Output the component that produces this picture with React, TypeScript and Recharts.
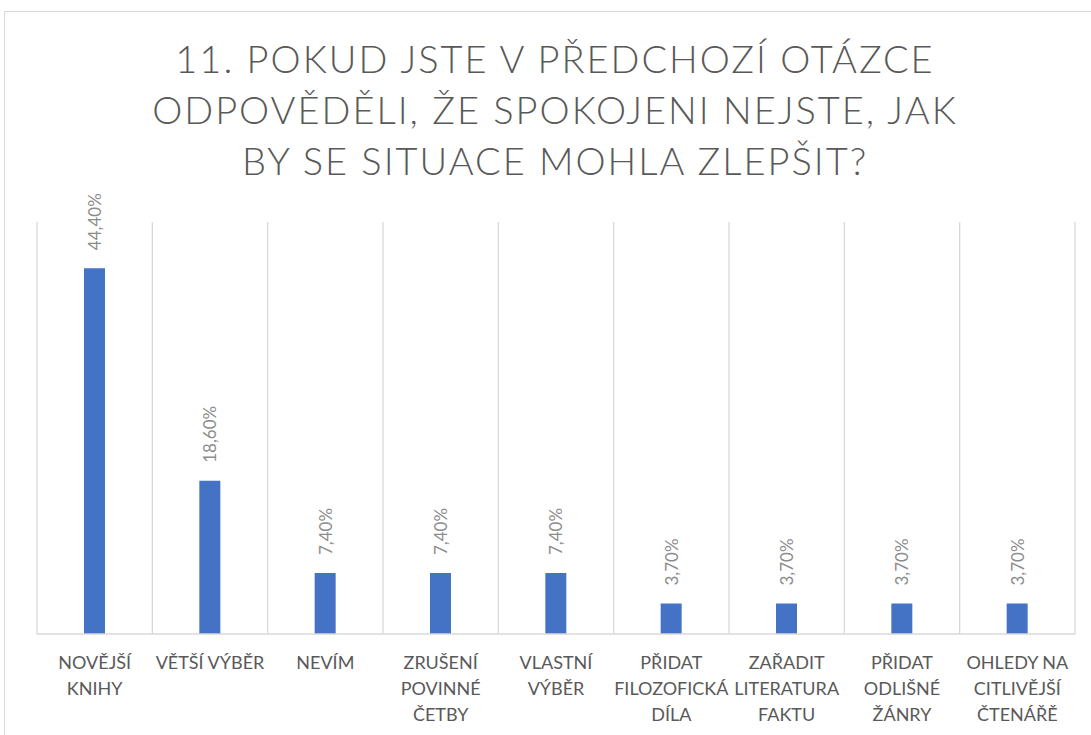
import { BarChart, Bar, XAxis, YAxis, CartesianGrid, LabelList } from 'recharts';

const categories = [
  'NOVĚJŠÍ\nKNIHY',
  'VĚTŠÍ VÝBĚR',
  'NEVÍM',
  'ZRUŠENÍ\nPOVINNÉ\nČETBY',
  'VLASTNÍ\nVÝBĚR',
  'PŘIDAT\nFILOZOFICKÁ\nDÍLA',
  'ZAŘADIT\nLITERATURA\nFAKTU',
  'PŘIDAT\nODLIŠNÉ\nŽÁNRY',
  'OHLEDY NA\nCITLIVĚJŠÍ\nČTENÁŘĚ',
];
const shares = [44.4, 18.6, 7.4, 7.4, 7.4, 3.7, 3.7, 3.7, 3.7];
const titleLines = [
  '11. POKUD JSTE V PŘEDCHOZÍ OTÁZCE',
  'ODPOVĚDĚLI, ŽE SPOKOJENI NEJSTE, JAK',
  'BY SE SITUACE MOHLA ZLEPŠIT?',
];

const data = categories.map((name, i) => ({ name, value: shares[i] }));

const FONT = 'Lato, "Open Sans", sans-serif';

// grid lines sit on the category boundaries, not the centres
function boundaryLines({ offset }: any) {
  const step = offset.width / categories.length;
  return Array.from({ length: categories.length + 1 }, (_, i) => offset.left + i * step);
}

function CategoryTick(props: any) {
  const { x, y, payload } = props;
  const lines = String(payload.value).split('\n');
  return (
    <text x={x} y={y + 27} textAnchor="middle" fill="#595959" fontSize={18} fontFamily={FONT}>
      {lines.map((line, i) => (
        <tspan key={i} x={x} dy={i === 0 ? 0 : 26}>
          {line}
        </tspan>
      ))}
    </text>
  );
}

function ValueLabel(props: any) {
  const { x, y, width, value } = props;
  const cx = x + width / 2;
  const cy = y - 18;
  return (
    <text
      x={cx}
      y={cy}
      transform={`rotate(-90 ${cx} ${cy})`}
      textAnchor="start"
      dominantBaseline="central"
      fill="#8c8c8c"
      fontSize={17}
      fontFamily={FONT}
    >
      {value.toFixed(2).replace('.', ',')}%
    </text>
  );
}

export default function App() {
  return (
    <div style={{ position: 'absolute', left: 0, top: 0, width: 1091, height: 735, background: '#fff', overflow: 'hidden' }}>
      <div
        style={{
          position: 'absolute',
          left: 4,
          top: 11,
          width: 1100,
          height: 740,
          border: '1px solid #d9d9d9',
        }}
      />
      <div
        style={{
          position: 'absolute',
          left: 0,
          top: 33,
          width: 1110,
          textAlign: 'center',
          fontFamily: FONT,
          fontWeight: 300,
          fontSize: 38,
          lineHeight: '51px',
          letterSpacing: 2,
          color: '#595959',
        }}
      >
        {titleLines.map((t) => (
          <div key={t}>{t}</div>
        ))}
      </div>
      <div style={{ position: 'absolute', left: 0, top: 0 }}>
        <BarChart
          width={1091}
          height={735}
          data={data}
          margin={{ top: 222, left: 37, right: 16, bottom: 11 }}
        >
          <CartesianGrid
            horizontal={false}
            vertical
            verticalCoordinatesGenerator={boundaryLines}
            stroke="#d9d9d9"
            strokeWidth={1.3}
          />
          <XAxis
            dataKey="name"
            height={90}
            interval={0}
            tickLine={false}
            axisLine={{ stroke: '#d9d9d9', strokeWidth: 1.3 }}
            tick={<CategoryTick />}
          />
          <YAxis domain={[0, 50]} hide />
          <Bar dataKey="value" fill="#4472C4" barSize={21} isAnimationActive={false}>
            <LabelList dataKey="value" content={<ValueLabel />} />
          </Bar>
        </BarChart>
      </div>
    </div>
  );
}
